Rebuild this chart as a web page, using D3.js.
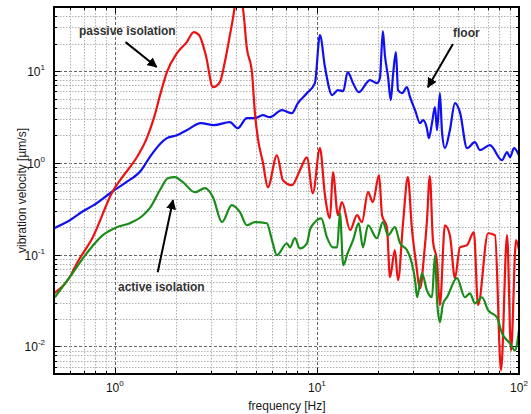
<!DOCTYPE html>
<html>
  <head>
    <title>vibration velocity</title>
    <meta charset="utf-8">
    <style type="text/css">
      body {
        margin: 0;
        background: #fff;
        font-family: "Liberation Sans", Arial, sans-serif;
      }
      .grid line {
        stroke: #b0b0b0;
        stroke-width: 1px;
        stroke-dasharray: 1.5 1.5;
      }
      .grid line.major {
        stroke: #666;
        stroke-dasharray: 3 2;
      }
      .ticks line {
        stroke: #000;
        stroke-width: 1px;
      }
      .tick-label {
        font-size: 12px;
        fill: #111;
      }
      .axis-title {
        font-size: 12px;
        fill: #1a1a1a;
      }
      .note {
        font-size: 12px;
        font-weight: bold;
        fill: #333;
      }
      .curve {
        fill: none;
        stroke-width: 2.2px;
        stroke-linejoin: round;
      }
    </style>
  </head>
  <body>
    <script src="https://d3js.org/d3.v7.min.js"></script>
    <script>
    // values (frequency in Hz, velocity in um/s)
    var floorFreq = [0.5, 0.599, 0.695, 0.787, 0.977, 1.12, 1.35, 1.51, 1.67, 1.81,
                     2.03, 2.27, 2.67, 3.09, 3.71, 4.06, 4.50, 4.93, 5.40, 5.85,
                     6.71, 7.52, 8.05, 8.92, 9.77, 10.35, 10.96, 11.9, 12.7, 13.5,
                     14.2, 15.1, 16.1, 18.3, 19.8, 20.5, 21.2, 21.7, 22.5, 23.2,
                     23.8, 24.6, 25.2, 26.4, 27.9, 28.9, 30.6, 32.4, 33.5, 35.0,
                     35.8, 37.1, 38.4, 39.3, 40.6, 41.6, 43.0, 45.5, 48.2, 51.0,
                     55.3, 60.5, 64.1, 71.8, 82.4, 87.3, 90.2, 94.5, 100];
    var floorVel = [0.194, 0.237, 0.297, 0.346, 0.491, 0.601, 0.832, 1.21, 1.60, 1.86,
                    2.00, 2.27, 2.71, 2.58, 2.78, 2.39, 3.07, 3.07, 3.31, 3.15,
                    3.76, 3.48, 4.48, 5.75, 7.39, 24.7, 11.1, 5.47, 6.21, 6.05,
                    9.75, 7.39, 5.90, 7.98, 7.39, 8.39, 27.3, 14.9, 8.6, 4.83,
                    9.04, 16.1, 6.21, 5.75, 6.69, 5.20, 3.76, 2.71, 2.92, 2.39,
                    1.86, 2.71, 4.05, 2.27, 5.75, 2.16, 1.45, 2.27, 4.48, 3.57,
                    1.45, 1.68, 1.38, 1.56, 1.07, 1.31, 1.15, 1.45, 1.21];

    var passiveFreq = [0.5, 0.599, 0.649, 0.778, 0.977, 1.108, 1.285, 1.44, 1.56, 1.69,
                       1.81, 2.03, 2.27, 2.46, 2.61, 2.82, 3.06, 3.31, 3.50, 3.79,
                       4.06, 4.30, 4.50, 4.77, 4.93, 5.10, 5.40, 5.72, 6.34, 6.79,
                       7.52, 8.24, 8.92, 9.55, 10.35, 10.96, 11.6, 12.0, 12.7, 13.3,
                       14.6, 15.8, 16.7, 17.9, 18.9, 20.3, 21.0, 22.2, 23.0, 24.3,
                       25.2, 26.7, 28.2, 29.5, 30.9, 32.4, 33.9, 35.0, 36.2, 37.5,
                       39.3, 40.6, 43.0, 45.5, 48.2, 51.0, 55.3, 59.8, 62.7, 70.3,
                       76.1, 81.5, 87.3, 91.3, 96.7, 100];
    var passiveVel = [0.0379, 0.0571, 0.0805, 0.155, 0.491, 0.735, 1.15, 1.86, 3.07, 5.90,
                      9.75, 15.7, 20.7, 26.6, 24.7, 14.9, 6.69, 7.59, 12.5, 31.7,
                      67, 48.6, 17.8, 9.75, 3.57, 1.86, 1.02, 0.543, 1.21, 0.647,
                      0.571, 0.832, 1.15, 0.467, 1.45, 0.444, 0.249, 0.792, 0.269, 0.373,
                      0.185, 0.269, 0.226, 0.479, 0.373, 0.735, 0.269, 0.199, 0.0567, 0.112,
                      0.0526, 0.226, 0.698, 0.194, 0.0826, 0.0430, 0.0985, 0.226, 0.716, 0.144,
                      0.0826, 0.0281, 0.209, 0.163, 0.0554, 0.120, 0.127, 0.176, 0.0281, 0.171,
                      0.163, 0.00547, 0.163, 0.00906, 0.144, 0.112];

    var activeFreq = [0.505, 0.599, 0.727, 0.872, 1.023, 1.186, 1.38, 1.49, 1.67, 1.83,
                      1.98, 2.17, 2.49, 2.79, 3.06, 3.39, 3.79, 4.16, 4.50, 4.93,
                      5.65, 5.99, 6.34, 7.10, 7.35, 7.78, 8.24, 8.92, 9.23, 9.77,
                      10.5, 11.2, 12.0, 12.6, 13.0, 13.5, 14.2, 15.1, 16.1, 16.9,
                      17.9, 19.8, 21.2, 22.5, 24.3, 25.8, 27.9, 29.5, 30.6, 31.3,
                      33.1, 35.0, 37.1, 38.4, 39.3, 40.6, 42.1, 44.0, 49.3, 54.0,
                      57.2, 60.5, 65.6, 70.3, 77.8, 82.4, 90.2, 95.5, 100];
    var activeVel = [0.0343, 0.0571, 0.104, 0.163, 0.199, 0.220, 0.269, 0.321, 0.503, 0.681,
                     0.698, 0.616, 0.479, 0.530, 0.423, 0.226, 0.346, 0.290, 0.209, 0.226,
                     0.220, 0.144, 0.0985, 0.133, 0.120, 0.151, 0.117, 0.133, 0.185, 0.226,
                     0.249, 0.155, 0.120, 0.120, 0.283, 0.0766, 0.104, 0.144, 0.220, 0.120,
                     0.209, 0.151, 0.226, 0.163, 0.199, 0.133, 0.112, 0.0805, 0.0526, 0.0343,
                     0.0627, 0.0409, 0.0343, 0.0985, 0.0318, 0.0183, 0.0295, 0.0343, 0.0554, 0.0343,
                     0.0379, 0.0295, 0.0343, 0.0248, 0.0207, 0.0139, 0.0108, 0.00906, 0.0150];

    var xDomain = [0.5, 100],
        yDomain = [0.005, 50];
    var xTickExp = [0, 1, 2],
        yTickExp = [-2, -1, 0, 1];

    var margin = {top: 7, right: 12, bottom: 40, left: 54};
    var width = 531 - margin.left - margin.right,
        height = 414 - margin.top - margin.bottom;

    var x = d3.scaleLog().domain(xDomain).range([0, width]);
    var y = d3.scaleLog().domain(yDomain).range([height, 0]);

    var svg = d3.select("body").append("svg")
        .attr("width", 531)
        .attr("height", 414)
      .append("g")
        .attr("transform", "translate(" + margin.left + "," + margin.top + ")");

    var defs = svg.append("defs");
    defs.append("clipPath")
        .attr("id", "plot-clip")
      .append("rect")
        .attr("width", width)
        .attr("height", height);

    function isMajor(v) {
      return Math.abs(Math.log10(v) - Math.round(Math.log10(v))) < 1e-6;
    }

    var xt = x.ticks().filter(function(d) { return d > xDomain[0] && d < xDomain[1]; });
    var yt = y.ticks().filter(function(d) { return d > yDomain[0] && d < yDomain[1]; });

    // grid
    var grid = svg.append("g").attr("class", "grid");
    grid.selectAll("line.gy").data(yt).enter().append("line")
        .attr("class", function(d) { return "gy" + (isMajor(d) ? " major" : ""); })
        .attr("x1", 0).attr("x2", width)
        .attr("y1", function(d) { return Math.round(y(d)) + 0.5; })
        .attr("y2", function(d) { return Math.round(y(d)) + 0.5; });
    grid.selectAll("line.gx").data(xt).enter().append("line")
        .attr("class", function(d) { return "gx" + (isMajor(d) ? " major" : ""); })
        .attr("y1", 0).attr("y2", height)
        .attr("x1", function(d) { return Math.round(x(d)) + 0.5; })
        .attr("x2", function(d) { return Math.round(x(d)) + 0.5; });

    // inward ticks on all four sides
    var ticks = svg.append("g").attr("class", "ticks");
    xt.forEach(function(d) {
      var px = Math.round(x(d)) + 0.5, len = isMajor(d) ? 6 : 3;
      ticks.append("line").attr("x1", px).attr("x2", px).attr("y1", height).attr("y2", height - len);
      ticks.append("line").attr("x1", px).attr("x2", px).attr("y1", 0).attr("y2", len);
    });
    yt.forEach(function(d) {
      var py = Math.round(y(d)) + 0.5, len = isMajor(d) ? 6 : 3;
      ticks.append("line").attr("y1", py).attr("y2", py).attr("x1", 0).attr("x2", len);
      ticks.append("line").attr("y1", py).attr("y2", py).attr("x1", width).attr("x2", width - len);
    });

    // curves
    var line = d3.line()
        .x(function(d) { return x(d[0]); })
        .y(function(d) { return y(d[1]); })
        .curve(d3.curveMonotoneX);

    var curves = svg.append("g").attr("clip-path", "url(#plot-clip)");
    curves.append("path").attr("class", "curve")
        .attr("stroke", "#1010f0")
        .attr("d", line(d3.zip(floorFreq, floorVel)));
    curves.append("path").attr("class", "curve")
        .attr("stroke", "#ee1111")
        .attr("d", line(d3.zip(passiveFreq, passiveVel)));
    curves.append("path").attr("class", "curve")
        .attr("stroke", "#1a8c1a")
        .attr("d", line(d3.zip(activeFreq, activeVel)));

    // frame
    svg.append("rect")
        .attr("width", width).attr("height", height)
        .attr("fill", "none").attr("stroke", "#000").attr("stroke-width", 2);

    // tick labels with superscript exponents
    xTickExp.forEach(function(e) {
      var t = svg.append("text").attr("class", "tick-label")
          .attr("x", x(Math.pow(10, e)))
          .attr("y", height + 18)
          .attr("text-anchor", "middle");
      t.append("tspan").text("10");
      t.append("tspan").attr("dy", -6).attr("font-size", 8).text(e);
    });
    yTickExp.forEach(function(e) {
      var t = svg.append("text").attr("class", "tick-label")
          .attr("x", -9)
          .attr("y", y(Math.pow(10, e)) + 5)
          .attr("text-anchor", "end");
      t.append("tspan").text("10");
      t.append("tspan").attr("dy", -6).attr("font-size", 8).text(e);
    });

    svg.append("text").attr("class", "axis-title")
        .attr("x", x(10) - 30).attr("y", height + 36)
        .attr("text-anchor", "middle")
        .text("frequency [Hz]");
    svg.append("text").attr("class", "axis-title")
        .attr("transform", "translate(-28," + (height / 2) + ") rotate(-90)")
        .attr("text-anchor", "middle")
        .text("vibration velocity [µm/s]");

    // annotations
    var marker = defs.append("marker")
        .attr("id", "head")
        .attr("viewBox", "0 0 10 10")
        .attr("refX", 9).attr("refY", 5)
        .attr("markerWidth", 5).attr("markerHeight", 5)
        .attr("orient", "auto");
    marker.append("path").attr("d", "M0,0L10,5L0,10z").attr("fill", "#000");

    var notes = [
      {text: "passive isolation", tx: 25, ty: 28, from: [1.13, 20.7], to: [1.61, 11.1]},
      {text: "floor", tx: 399, ty: 30, from: [47.1, 19.7], to: [35.4, 6.69]},
      {text: "active isolation", tx: 64, ty: 284, from: [1.63, 0.0643], to: [1.94, 0.392]}
    ];
    notes.forEach(function(n) {
      svg.append("text").attr("class", "note")
          .attr("x", n.tx).attr("y", n.ty)
          .text(n.text);
      svg.append("line")
          .attr("x1", x(n.from[0])).attr("y1", y(n.from[1]))
          .attr("x2", x(n.to[0])).attr("y2", y(n.to[1]))
          .attr("stroke", "#000").attr("stroke-width", 2)
          .attr("marker-end", "url(#head)");
    });
    </script>
  </body>
</html>
